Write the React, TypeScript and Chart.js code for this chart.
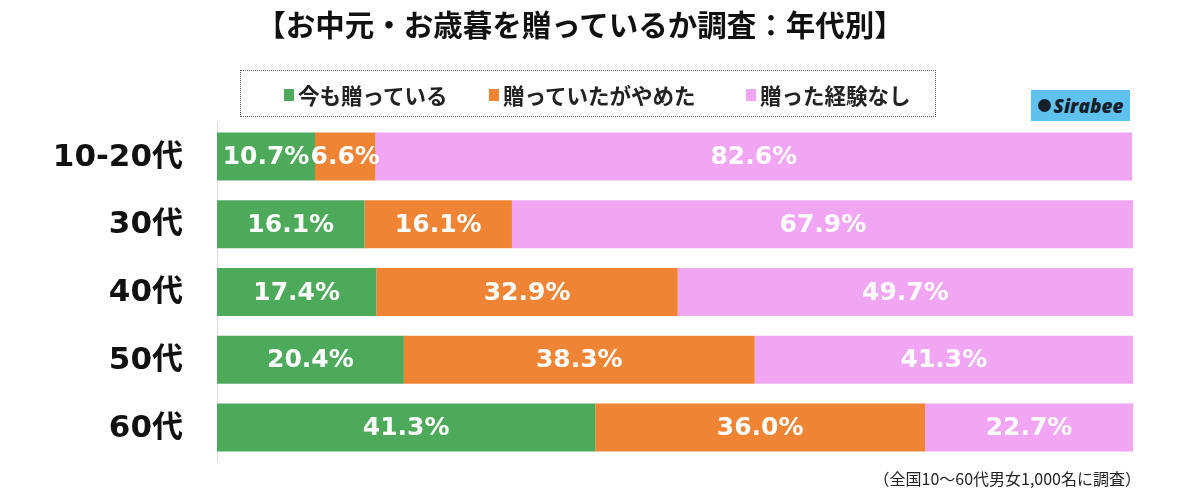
import React, { useEffect, useRef } from "react";
import { Chart, registerables } from "chart.js";

Chart.register(...registerables);

const categories = ["10-20代", "30代", "40代", "50代", "60代"];
const seriesNames = ["今も贈っている", "贈っていたがやめた", "贈った経験なし"];
const stillGiving = [10.7, 16.1, 17.4, 20.4, 41.3];
const stopped = [6.6, 16.1, 32.9, 38.3, 36.0];
const never = [82.6, 67.9, 49.7, 41.3, 22.7];
const colors = ["#4caa5a", "#ee8434", "#f0a6f2"];

const title = "【お中元・お歳暮を贈っているか調査：年代別】";
const footnote = "（全国10〜60代男女1,000名に調査）";

const labelPlugin = {
  id: "barLabels",
  afterDatasetsDraw(chart: any) {
    const ctx = chart.ctx;
    ctx.save();
    ctx.font = 'bold 25px "DejaVu Sans", "Noto Sans CJK JP"';
    ctx.fillStyle = "#ffffff";
    ctx.textAlign = "center";
    ctx.textBaseline = "middle";
    chart.data.datasets.forEach((ds: any, i: number) => {
      const meta = chart.getDatasetMeta(i);
      meta.data.forEach((el: any, j: number) => {
        const { x, base, y } = el.getProps(["x", "base", "y"], true);
        ctx.fillText(Number(ds.data[j]).toFixed(1) + "%", (x + base) / 2, y + 1);
      });
    });
    // category labels
    const yScale = chart.scales.y;
    ctx.font = 'bold 31px "DejaVu Sans", "Noto Sans CJK JP"';
    ctx.fillStyle = "#111111";
    ctx.textAlign = "right";
    chart.data.labels.forEach((lab: string, i: number) => {
      ctx.fillText(lab, chart.chartArea.left - 34, yScale.getPixelForTick(i) + 1);
    });
    ctx.restore();
  },
};

export default function App() {
  const ref = useRef<HTMLCanvasElement | null>(null);

  useEffect(() => {
    if (!ref.current) return;
    const chart = new Chart(ref.current, {
      type: "bar",
      data: {
        labels: categories,
        datasets: [stillGiving, stopped, never].map((d, i) => ({
          label: seriesNames[i],
          data: d,
          backgroundColor: colors[i],
          borderWidth: 0,
          categoryPercentage: 1,
          barPercentage: 0.71,
        })),
      },
      options: {
        indexAxis: "y",
        animation: false,
        responsive: false,
        maintainAspectRatio: false,
        layout: { padding: { top: 122.6, bottom: 34.6, right: 67, left: 0 } },
        plugins: {
          legend: { display: false },
          tooltip: { enabled: false },
          title: { display: false },
        },
        scales: {
          x: {
            stacked: true,
            min: 0,
            max: 100,
            display: false,
          },
          y: {
            stacked: true,
            grid: { display: false, drawTicks: false },
            border: { display: true, color: "#dddddd", width: 1 },
            ticks: { display: false },
            afterFit(scale: any) {
              scale.width = 217;
            },
          },
        },
      } as any,
      plugins: [labelPlugin],
    });
    return () => chart.destroy();
  }, []);

  const jp = '"Noto Sans CJK JP", "Noto Sans", sans-serif';
  const legendItems = [
    { left: 43, color: colors[0], text: seriesNames[0] },
    { left: 248, color: colors[1], text: seriesNames[1] },
    { left: 505, color: colors[2], text: seriesNames[2] },
  ];

  return (
    <div style={{ position: "absolute", left: 0, top: 0, width: 1200, height: 496, background: "#fff", overflow: "hidden" }}>
      <canvas ref={ref} width={1200} height={496} style={{ position: "absolute", left: 0, top: 0, width: 1200, height: 496 }} />
      <div
        style={{
          position: "absolute", left: 250, top: 5, width: 660, height: 36, lineHeight: "36px",
          fontFamily: jp, fontWeight: 700, fontSize: 29.5, color: "#111", whiteSpace: "nowrap", textAlign: "center",
        }}
      >
        {title}
      </div>
      <div
        style={{
          position: "absolute", left: 240, top: 70, width: 696, height: 47,
          border: "1px dotted #555", boxSizing: "border-box",
        }}
      >
        {legendItems.map((it, i) => (
          <React.Fragment key={i}>
            <span style={{ position: "absolute", left: it.left, top: 18, width: 10, height: 12, background: it.color }} />
            <span
              style={{
                position: "absolute", left: it.left + 14, top: 9, height: 30, lineHeight: "30px",
                fontFamily: jp, fontWeight: 700, fontSize: 21.5, color: "#222", whiteSpace: "nowrap",
              }}
            >
              {it.text}
            </span>
          </React.Fragment>
        ))}
      </div>
      <div
        style={{
          position: "absolute", left: 1031, top: 90, width: 99, height: 31, background: "#5fc2ee",
          display: "flex", alignItems: "center", justifyContent: "center", gap: 3,
        }}
      >
        <span style={{ display: "inline-block", width: 13, height: 13, borderRadius: "50%", background: "#15202b" }} />
        <span style={{ fontFamily: '"Open Sans", sans-serif', fontWeight: 800, fontStyle: "italic", fontSize: 19, color: "#15202b" }}>
          Sirabee
        </span>
      </div>
      <div
        style={{
          position: "absolute", left: 860, top: 467, width: 281, height: 22, lineHeight: "22px",
          fontFamily: jp, fontSize: 16, color: "#222", whiteSpace: "nowrap", textAlign: "right",
        }}
      >
        {footnote}
      </div>
    </div>
  );
}
